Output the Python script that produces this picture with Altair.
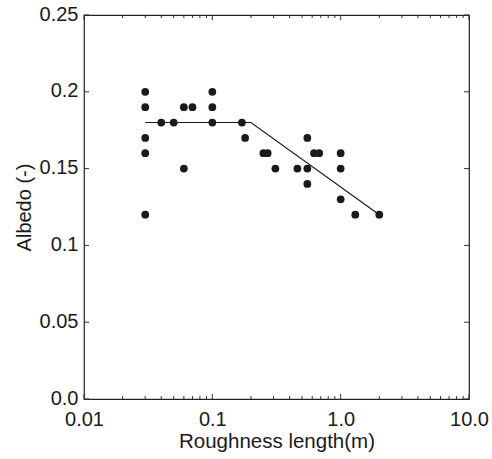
import altair as alt
import pandas as pd

# Observed data points
rough_x = [0.03, 0.03, 0.03, 0.03, 0.03, 0.04, 0.05, 0.06, 0.06, 0.07,
           0.1, 0.1, 0.1, 0.17, 0.18, 0.25, 0.27, 0.31, 0.46, 0.55,
           0.55, 0.55, 0.62, 0.68, 1.0, 1.0, 1.0, 1.3, 2.0]
albedo_y = [0.20, 0.19, 0.17, 0.16, 0.12, 0.18, 0.18, 0.19, 0.15, 0.19,
            0.20, 0.19, 0.18, 0.18, 0.17, 0.16, 0.16, 0.15, 0.15, 0.17,
            0.15, 0.14, 0.16, 0.16, 0.16, 0.15, 0.13, 0.12, 0.12]

# Fitted piecewise line
fit_x = [0.03, 0.2, 2.0]
fit_y = [0.18, 0.18, 0.12]

# Axis ticks
x_major = [0.01, 0.1, 1.0, 10.0]
x_minor = [m * d for d in [0.01, 0.1, 1.0] for m in range(2, 10)]
y_ticks = [0.0, 0.05, 0.1, 0.15, 0.2, 0.25]

W, H = 385, 384
FONT = "Liberation Sans"
INK = "#1a1a1a"

pts = pd.DataFrame({"x": rough_x, "y": albedo_y})
fit = pd.DataFrame({"x": fit_x, "y": fit_y})
xmaj = pd.DataFrame({"x": x_major})
xmin = pd.DataFrame({"x": x_minor})
yt = pd.DataFrame({"y": y_ticks})

xscale = alt.Scale(type="log", domain=[0.01, 10], nice=False)
yscale = alt.Scale(domain=[0, 0.25], nice=False, zero=False)

xaxis = alt.Axis(values=x_major, ticks=False, domain=False, grid=False,
                 labelExpr="datum.value < 1 ? toString(datum.value) : format(datum.value, '.1f')",
                 labelFont=FONT, labelFontSize=20, labelColor=INK, labelPadding=10,
                 title="Roughness length(m)", titleFont=FONT, titleFontSize=20.5,
                 titleFontWeight="normal", titleColor=INK, titlePadding=2,
                 labelFlush=False, labelOverlap=False)
yaxis = alt.Axis(values=y_ticks, ticks=False, domain=False, grid=False,
                 labelExpr="datum.value == 0 ? '0.0' : format(datum.value, '.2~f')",
                 labelFont=FONT, labelFontSize=20, labelColor=INK, labelPadding=6,
                 labelOffset=-1,
                 title="Albedo (-)", titleFont=FONT, titleFontSize=20,
                 titleFontWeight="normal", titleColor=INK, titlePadding=5,
                 labelFlush=False, labelOverlap=False)

points = alt.Chart(pts).mark_circle(size=60, color=INK, opacity=1).encode(
    x=alt.X("x:Q", scale=xscale, axis=xaxis),
    y=alt.Y("y:Q", scale=yscale, axis=yaxis),
)
line = alt.Chart(fit).mark_line(color=INK, strokeWidth=1.2).encode(
    x=alt.X("x:Q", scale=xscale), y=alt.Y("y:Q", scale=yscale)
)

tick_color = "#333333"
bot_major = alt.Chart(xmaj).mark_rule(color=tick_color, strokeWidth=1).encode(
    x=alt.X("x:Q", scale=xscale), y=alt.value(H), y2=alt.value(H - 5))
top_major = alt.Chart(xmaj).mark_rule(color=tick_color, strokeWidth=1).encode(
    x=alt.X("x:Q", scale=xscale), y=alt.value(0), y2=alt.value(5))
bot_minor = alt.Chart(xmin).mark_rule(color=tick_color, strokeWidth=1).encode(
    x=alt.X("x:Q", scale=xscale), y=alt.value(H), y2=alt.value(H - 3))
top_minor = alt.Chart(xmin).mark_rule(color=tick_color, strokeWidth=1).encode(
    x=alt.X("x:Q", scale=xscale), y=alt.value(0), y2=alt.value(3))
left_t = alt.Chart(yt).mark_rule(color=tick_color, strokeWidth=1).encode(
    y=alt.Y("y:Q", scale=yscale), x=alt.value(0), x2=alt.value(5))
right_t = alt.Chart(yt).mark_rule(color=tick_color, strokeWidth=1).encode(
    y=alt.Y("y:Q", scale=yscale), x=alt.value(W), x2=alt.value(W - 5))

chart = alt.layer(
    bot_major, top_major, bot_minor, top_minor, left_t, right_t, line, points
).properties(
    width=W, height=H,
    autosize=alt.AutoSizeParams(type="none"),
    padding={"left": 84, "top": 15, "right": 23, "bottom": 60},
    background="white",
).configure_view(stroke="#222222", strokeWidth=1.2)

chart.save("out.html", embed_options={"renderer": "svg", "actions": False})
